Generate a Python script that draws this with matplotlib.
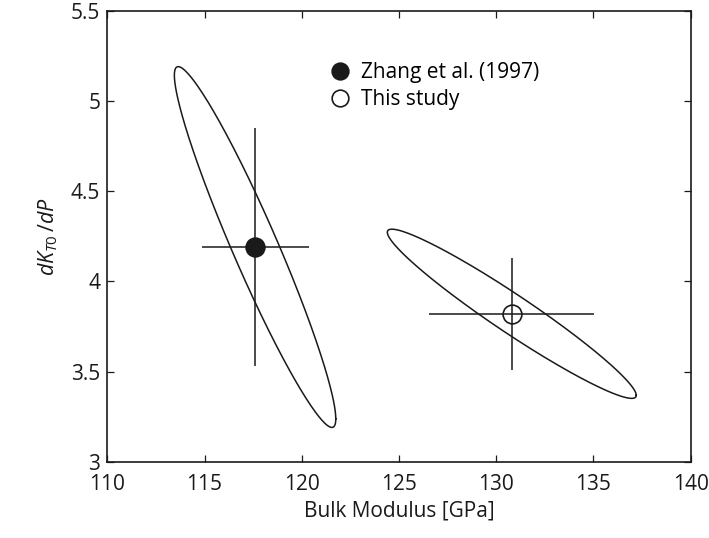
import matplotlib
matplotlib.use("Agg")
import matplotlib.pyplot as plt
import numpy as np
from matplotlib.lines import Line2D

plt.rcParams["font.family"] = ["Open Sans", "DejaVu Sans"]
plt.rcParams["mathtext.fontset"] = "custom"
plt.rcParams["mathtext.rm"] = "Open Sans"
plt.rcParams["mathtext.it"] = "Open Sans:italic"

# Data: two fits, each with value +- error and a joint confidence ellipse
labels = ["Zhang et al. (1997)", "This study"]
K0 = [117.6, 130.8]          # bulk modulus [GPa]
K0_err = [2.75, 4.25]
Kp = [4.19, 3.82]            # dK/dP
Kp_err = [0.66, 0.31]
# ellipse: half-extent in K, half-extent in K', correlation
ell_sK = [4.15, 6.4]
ell_sKp = [1.0, 0.469]
ell_rho = [-0.952, -0.963]
filled = [True, False]

xticks = [110, 115, 120, 125, 130, 135, 140]
yticks = [3, 3.5, 4, 4.5, 5, 5.5]
ytick_labels = ["3", "3.5", "4", "4.5", "5", "5.5"]

fig = plt.figure(figsize=(7.09, 5.38), dpi=100)
ax = fig.add_axes([0.1513, 0.1418, 0.8229, 0.8383])

t = np.linspace(0, 2 * np.pi, 400)
for i in range(len(labels)):
    sx, sy, r = ell_sK[i], ell_sKp[i], ell_rho[i]
    cov = np.array([[sx ** 2, r * sx * sy], [r * sx * sy, sy ** 2]])
    L = np.linalg.cholesky(cov)
    pts = L @ np.vstack([np.cos(t), np.sin(t)])
    ax.plot(K0[i] + pts[0], Kp[i] + pts[1], color="#1a1a1a", lw=1.1, zorder=2)

    ax.errorbar(K0[i], Kp[i], xerr=K0_err[i], yerr=Kp_err[i], fmt="none",
                ecolor="#1a1a1a", elinewidth=1.1, capsize=0, zorder=3)
    ax.plot(K0[i], Kp[i], "o", ms=13.5, mec="#1a1a1a", mew=1.2,
            mfc="#1a1a1a" if filled[i] else "none", zorder=4)

handles = [Line2D([], [], ls="none", marker="o", ms=12, mec="#1a1a1a", mew=1.2,
                  mfc="#1a1a1a" if f else "none") for f in filled]
ax.legend(handles, labels, loc="upper left", bbox_to_anchor=(0.365, 0.905),
          frameon=False, fontsize=15, handletextpad=0.45, labelspacing=0.3,
          handlelength=1.1, borderaxespad=0)

ax.set_xlim(110, 140)
ax.set_ylim(3, 5.5)
ax.set_xticks(xticks)
ax.set_yticks(yticks)
ax.set_yticklabels(ytick_labels)
ax.tick_params(direction="in", top=True, right=True, labelsize=15,
               length=5, width=0.9, colors="#1a1a1a")
ax.tick_params(axis="x", pad=9)
ax.tick_params(axis="y", pad=5)
for s in ax.spines.values():
    s.set_linewidth(1.2)
    s.set_color("#1a1a1a")

ax.set_xlabel("Bulk Modulus [GPa]", fontsize=15, color="#1a1a1a", labelpad=4)
ax.set_ylabel(r"$dK_{T0}\,/dP$", fontsize=15.5, color="#1a1a1a", labelpad=8)

fig.savefig("out.png", dpi=100, facecolor="white")
